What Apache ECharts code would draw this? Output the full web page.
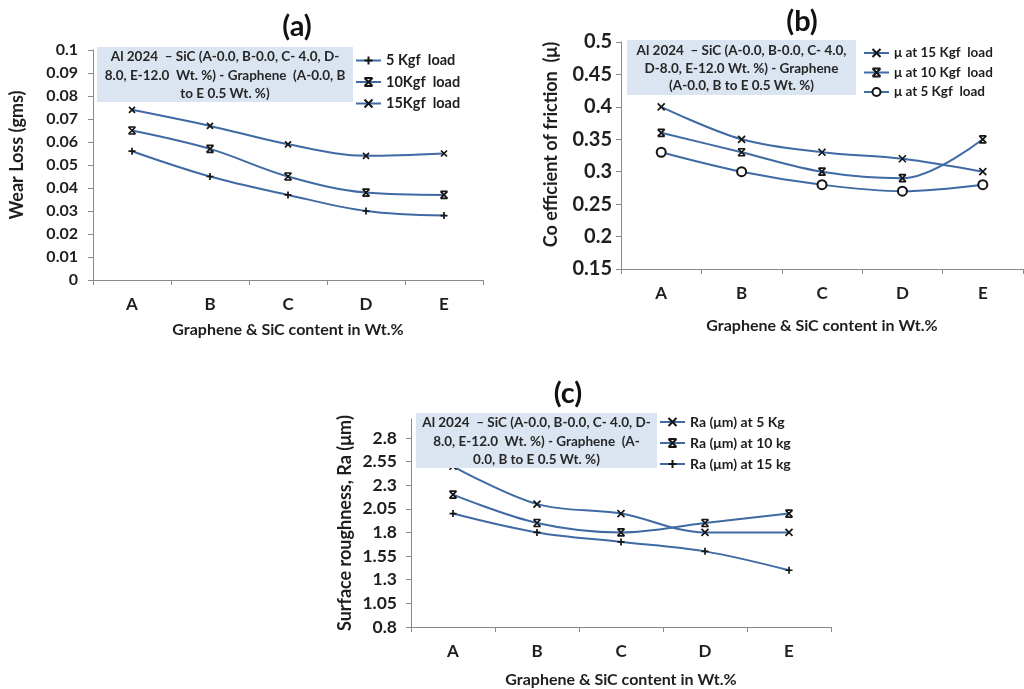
<!DOCTYPE html>
<html>
<head>
<meta charset="utf-8">
<script src="https://cdn.jsdelivr.net/npm/echarts@6/dist/echarts.min.js"></script>
<style>
html,body{margin:0;padding:0;background:#fff;}
#chart{width:1024px;height:689px;}
</style>
</head>
<body>
<div id="chart"></div>
<script>
// ---- Data ----
var categories = ['A', 'B', 'C', 'D', 'E'];

// (a) Wear loss (gms)
var wear5 = [0.056, 0.045, 0.037, 0.030, 0.028];
var wear10 = [0.065, 0.057, 0.045, 0.038, 0.037];
var wear15 = [0.074, 0.067, 0.059, 0.054, 0.055];
var ticksA = [0, 0.01, 0.02, 0.03, 0.04, 0.05, 0.06, 0.07, 0.08, 0.09, 0.1];

// (b) Coefficient of friction
var mu15 = [0.40, 0.35, 0.33, 0.32, 0.30];
var mu10 = [0.36, 0.33, 0.30, 0.29, 0.35];
var mu5 = [0.33, 0.30, 0.28, 0.27, 0.28];
var ticksB = [0.15, 0.2, 0.25, 0.3, 0.35, 0.4, 0.45, 0.5];

// (c) Surface roughness Ra (um)
var ra5 = [2.5, 2.1, 2.0, 1.8, 1.8];
var ra10 = [2.2, 1.9, 1.8, 1.9, 2.0];
var ra15 = [2.0, 1.8, 1.7, 1.6, 1.4];
var ticksC = [0.8, 1.05, 1.3, 1.55, 1.8, 2.05, 2.3, 2.55, 2.8];

var noteA = 'Al 2024  \u2013 SiC (A-0.0, B-0.0, C- 4.0, D-\n8.0, E-12.0  Wt. %) - Graphene  (A-0.0, B\nto E 0.5 Wt. %)';
var noteB = 'Al 2024  \u2013 SiC (A-0.0, B-0.0, C- 4.0,\nD-8.0, E-12.0 Wt. %) - Graphene\n(A-0.0, B to E 0.5 Wt. %)';
var noteC = 'Al 2024  \u2013 SiC (A-0.0, B-0.0, C- 4.0, D-\n8.0, E-12.0  Wt. %) - Graphene  (A-\n0.0, B to E 0.5 Wt. %)';

// ---- Styles ----
var FONT = 'Lato';
var LINE = '#3f6aa4';
var MK = '#151515';
var AXIS = '#8a8a8a';
var TXT = '#1e1e1e';
var SYM_X = 'path://M0,0 L10,10 M10,0 L0,10';
var SYM_PLUS = 'path://M5,0 L5,10 M0,5 L10,5';
var SYM_STAR = 'path://M0,0 L10,10 M10,0 L0,10 M0,0 L10,0 M0,10 L10,10';

function mkSeries(name, data, idx, symbol, size) {
  var open = symbol === 'emptyCircle';
  return {
    name: name, type: 'line', xAxisIndex: idx, yAxisIndex: idx,
    data: data, smooth: 0.35, symbol: symbol, symbolSize: size,
    lineStyle: {color: LINE, width: 2},
    itemStyle: {color: MK, borderColor: MK, borderWidth: open ? 2 : 1.7},
    z: 3
  };
}

function xAx(idx, gap) {
  return {
    type: 'category', gridIndex: idx, data: categories, boundaryGap: true,
    axisLine: {lineStyle: {color: AXIS, width: 1}},
    axisTick: {show: true, length: 5, lineStyle: {color: AXIS}},
    axisLabel: {margin: 16, fontFamily: FONT, fontWeight: 'bold', fontSize: 17, color: TXT},
    name: 'Graphene & SiC content in Wt.%', nameLocation: 'middle', nameGap: gap,
    nameTextStyle: {fontFamily: FONT, fontWeight: 'bold', fontSize: 16, color: TXT},
    splitLine: {show: false}
  };
}

function yAx(idx, min, max, ticks, name, gap, fs, margin, shift) {
  return {
    type: 'value', gridIndex: idx, min: min, max: max,
    axisLine: {show: true, lineStyle: {color: AXIS, width: 1}},
    axisTick: {show: true, length: 5, inside: false, customValues: ticks, lineStyle: {color: AXIS}},
    axisLabel: {customValues: ticks, margin: margin, fontFamily: FONT, fontWeight: 'bold', fontSize: fs, color: TXT},
    splitLine: {show: false},
    name: name, nameLocation: 'middle', nameGap: gap, nameRotate: 90,
    nameTextStyle: {fontFamily: FONT, fontWeight: 'bold', fontSize: 18, color: TXT, padding: [0, 0, 0, shift]}
  };
}

function legend(left, top, names, gap, fs) {
  return {
    orient: 'vertical', left: left, top: top, data: names, padding: 0,
    itemWidth: 25, itemHeight: 10, itemGap: gap,
    textStyle: {fontFamily: FONT, fontWeight: 'bold', fontSize: fs, color: TXT, lineHeight: 14},
    selectedMode: false
  };
}

function note(x, y, w, h, txt, lh) {
  return {
    type: 'group', z: 10,
    children: [
      {type: 'rect', shape: {x: x, y: y, width: w, height: h}, style: {fill: '#dbe5f1'}, z: 10},
      {type: 'text', x: x + w / 2, y: y + h / 2 + 1, z: 11,
       style: {text: txt, fill: '#262626', font: 'bold 13.5px ' + FONT, align: 'center', verticalAlign: 'middle', lineHeight: lh}}
    ]
  };
}

function title(x, y, txt) {
  return {type: 'text', x: x, y: y, style: {text: txt, fill: '#111', font: 'bold 29px ' + FONT, align: 'center', verticalAlign: 'middle'}};
}

var n = {
  a5: '5 Kgf  load', a10: '10Kgf  load', a15: '15Kgf  load',
  b15: '\u03bc at 15 Kgf  load', b10: '\u03bc at 10 Kgf  load', b5: '\u03bc at 5 Kgf  load',
  c5: 'Ra (\u03bcm) at 5 Kg', c10: 'Ra (\u03bcm) at 10 kg', c15: 'Ra (\u03bcm) at 15 kg'
};

var option = {
  backgroundColor: '#fff',
  animation: false,
  grid: [
    {left: 93, top: 50, width: 390, height: 230},
    {left: 621, top: 42, width: 402, height: 227},
    {left: 411, top: 419, width: 420, height: 208}
  ],
  xAxis: [xAx(0, 42), xAx(1, 49), xAx(2, 45)],
  yAxis: [
    yAx(0, 0, 0.1, ticksA, 'Wear Loss (gms)', 67, 16, 15, 20),
    yAx(1, 0.15, 0.5, ticksB, 'Co efficient of friction  (\u03bc)', 61, 20, 9, 22),
    yAx(2, 0.8, 3.0, ticksC, 'Surface roughness, Ra (\u03bcm)', 57, 17.5, 14, 0)
  ],
  legend: [
    legend(355, 53, [n.a5, n.a10, n.a15], 6.5, 14.5),
    legend(863, 46, [n.b15, n.b10, n.b5], 5.5, 13.5),
    legend(659, 415, [n.c5, n.c10, n.c15], 7, 14)
  ],
  series: [
    mkSeries(n.a5, wear5, 0, SYM_PLUS, 7),
    mkSeries(n.a10, wear10, 0, SYM_STAR, 7),
    mkSeries(n.a15, wear15, 0, SYM_X, 6),
    mkSeries(n.b15, mu15, 1, SYM_X, 7),
    mkSeries(n.b10, mu10, 1, SYM_STAR, 7),
    mkSeries(n.b5, mu5, 1, 'emptyCircle', 9),
    mkSeries(n.c5, ra5, 2, SYM_X, 7),
    mkSeries(n.c10, ra10, 2, SYM_STAR, 7),
    mkSeries(n.c15, ra15, 2, SYM_PLUS, 7)
  ],
  graphic: [
    note(97, 47, 256, 55, noteA, 18.5),
    note(627, 40, 229, 55, noteB, 17.5),
    note(416, 413, 241, 55, noteC, 18.5),
    title(297, 27, '(a)'),
    title(802, 22, '(b)'),
    title(568, 394, '(c)')
  ]
};

var chart = echarts.init(document.getElementById('chart'), null, {renderer: 'canvas'});
chart.setOption(option);
</script>
</body>
</html>
